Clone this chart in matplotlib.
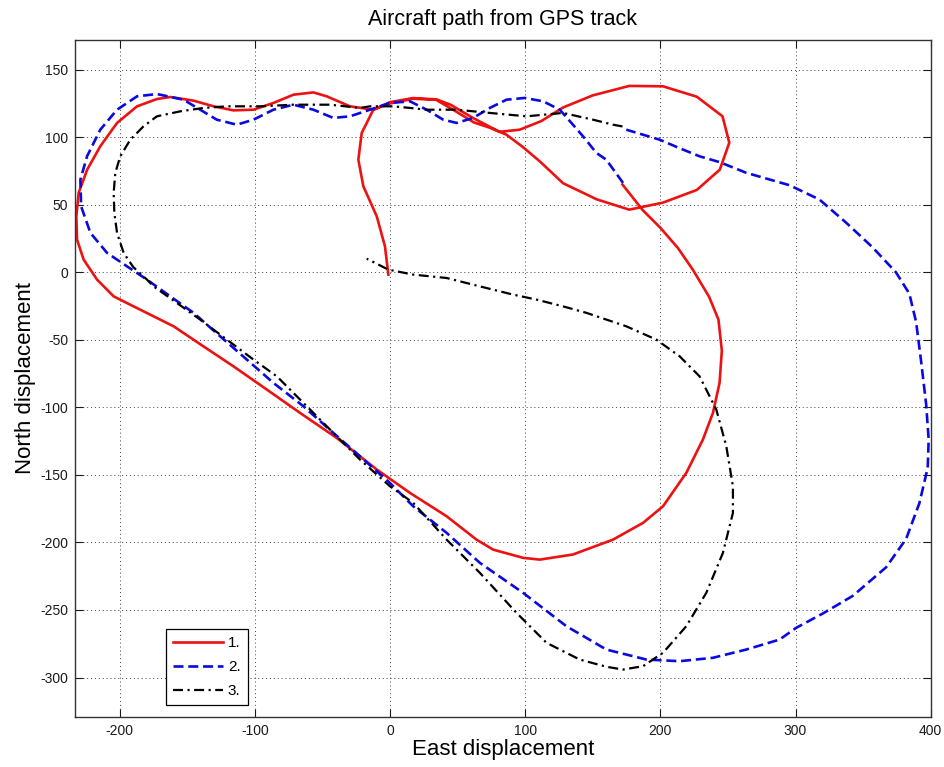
import matplotlib
matplotlib.use("Agg")
import matplotlib.pyplot as plt

# ---------------- data ----------------
# Series 1 (red, solid)
red_x = [-1.2, -3.7, -9.8, -19.7, -23.4, -20.9, -12.3, 0.0, 17.0, 34.0, 49.0, 62.0, 74.0, 86.0, 98.0,
         111.0, 128.0, 153.0, 177.0, 202.0, 227.0, 244.0, 251.0, 246.0, 227.0, 202.0, 177.0, 150.0,
         128.0, 112.0, 96.0, 81.0, 61.0, 45.0, 34.5, 17.0, 0.0, -12.3, -29.6, -46.8, -56.7, -71.4, -86.2,
         -101.0, -115.8, -130.5, -145.3, -162.5, -172.4, -187.1, -201.9, -214.3, -224.0, -230.3, -232.0,
         -231.5, -226.6, -216.7, -204.4, -189.7, -172.4, -160.0, -138.0, -115.8, -91.1, -66.5, -39.4,
         -9.8, 14.8, 41.9, 64.0, 76.3, 98.5, 110.8, 135.4, 165.0, 187.2, 202.0, 219.2, 231.5, 238.9,
         243.8, 245.5, 243.0, 236.0, 224.0, 213.0, 200.0, 187.0, 172.0]
red_y = [-1.7, 19.2, 41.5, 63.7, 83.4, 103.2, 120.4, 125.0, 128.5, 127.8, 119.0, 111.0, 107.0, 102.0, 93.0,
         82.0, 66.0, 54.0, 46.4, 51.6, 61.0, 76.0, 96.0, 115.5, 130.0, 137.7, 138.0, 131.0,
         122.0, 112.0, 105.6, 104.0, 114.5, 124.0, 128.0, 129.0, 126.0, 120.4, 122.9, 130.3, 133.2, 131.5,
         125.4, 120.4, 119.9, 122.9, 127.1, 129.8, 128.3, 122.9, 110.6, 93.3, 76.0, 58.8, 41.5,
         24.2, 9.4, -5.4, -17.8, -25.2, -33.8, -40.0, -54.8, -69.6, -86.8, -104.1, -122.6,
         -146.0, -163.3, -180.6, -197.9, -205.3, -211.4, -212.7, -208.9, -197.9, -185.5, -173.2, -148.5,
         -123.8, -104.1, -81.9, -58.0, -35.0, -18.0, 2.0, 18.0, 33.0, 46.0, 65.0]

# Series 2 (blue, dashed)
blue_x = [172.4, 160.0, 152.7, 142.8, 133.0, 125.6, 113.3, 99.7, 86.2, 73.9, 61.5, 49.3, 39.4, 27.1,
          14.8, 0.0, -14.8, -29.6, -41.9, -56.7, -71.4, -86.2, -101.0, -113.3, -128.1, -140.4, -152.7,
          -172.4, -187.1, -201.9, -214.3, -224.1, -229.0, -228.5, -221.6, -209.3, -194.5, -179.8,
          -162.5, -145.3, -125.6, -105.9, -86.2, -64.0, -41.9, -22.2, 0.0, 17.2, 41.9, 66.5, 98.5,
          130.5, 160.1, 189.7, 214.3, 238.9, 263.5, 288.2, 300.5, 320.2, 342.4, 367.0, 381.8, 391.6,
          397.8, 398.5, 396.6, 392.9, 389.2, 384.2, 374.3, 357.1, 337.4, 317.7, 295.5, 263.5, 243.8,
          229.0, 214.0, 199.5, 174.8]
blue_y = [66.2, 83.4, 88.4, 100.7, 112.0, 120.4, 126.6, 129.1, 127.8, 121.7, 114.3, 110.6, 113.0, 120.4,
          126.6, 125.4, 120.4, 115.5, 114.3, 120.4, 124.1, 120.4, 113.0, 109.3, 113.0, 120.4, 127.8,
          132.0, 130.3, 120.4, 105.6, 85.9, 68.6, 48.9, 29.2, 14.4, 4.4, -5.4,
          -17.8, -30.0, -47.4, -64.6, -81.9, -99.2, -118.9, -136.2, -156.0, -173.2, -192.9, -215.1, -237.3,
          -262.0, -279.3, -286.7, -287.9, -285.4, -279.3, -271.9, -263.2, -252.6, -239.5, -218.4, -197.4,
          -171.0, -144.7, -123.7, -97.4, -65.8, -36.8, -15.8, 0.0, 18.4, 36.8, 53.9, 64.5, 73.7, 81.6,
          85.9, 92.0, 98.2, 105.6]

# Series 3 (black, dash-dot)
black_x = [172.0, 165.0, 150.2, 128.0, 101.0, 73.9, 49.3, 27.1, 14.8, 2.4, -14.8, -22.2, -44.3, -71.4,
           -96.0, -120.7, -138.0, -155.1, -172.4, -182.3, -192.1, -199.5, -203.2, -204.4, -203.9,
           -201.9, -197.0, -190.0, -179.8, -174.9, -157.6, -140.4, -120.7, -101.0, -83.7, -61.5, -41.9,
           -22.2, 0.0, 17.2, 41.9, 66.5, 93.6, 115.8, 140.4, 160.0, 172.4, 187.2, 202.0, 219.2, 234.0,
           246.3, 253.7, 253.7, 248.8, 241.4, 229.0, 214.3, 197.0, 174.9, 145.3, 128.0, 108.4, 91.1,
           66.5, 41.9, 17.2, -1.2, -17.2]
black_y = [108.0, 109.3, 113.0, 118.0, 115.5, 118.0, 120.4, 120.4, 121.7, 122.9, 122.9, 121.7, 124.1, 124.1,
           122.9, 122.9, 121.7, 119.2, 115.5, 108.1, 98.2, 85.9, 73.6, 58.8, 44.0,
           29.2, 14.4, 4.0, -5.4, -10.4, -22.7, -35.0, -49.8, -64.6, -77.0, -99.2, -118.9,
           -138.6, -158.4, -170.7, -197.9, -222.5, -252.1, -274.3, -286.7, -292.0, -294.1, -291.6, -281.7,
           -262.0, -237.3, -207.7, -178.1, -158.4, -128.8, -101.6, -77.0, -62.2, -49.8, -40.0, -30.0,
           -25.2, -20.2, -16.5, -10.4, -4.2, -1.7, 2.0, 10.1]

series_labels = ["1.", "2.", "3."]
x_ticks = [-200, -100, 0, 100, 200, 300, 400]
y_ticks = [-300, -250, -200, -150, -100, -50, 0, 50, 100, 150]
title_text = "Aircraft path from GPS track"
x_label = "East displacement"
y_label = "North displacement"

# ---------------- styling ----------------
plt.rcParams['font.family'] = ['Liberation Sans', 'DejaVu Sans']
plt.rcParams['axes.unicode_minus'] = False

fig = plt.figure(figsize=(9.44, 7.67), dpi=100)
W, H = 944, 767
ax_l, ax_r, ax_t, ax_b = 75, 930.7, 40, 716.7
ax = fig.add_axes([ax_l / W, 1 - ax_b / H, (ax_r - ax_l) / W, (ax_b - ax_t) / H])

ax.plot(red_x, red_y, color='#ee1111', lw=1.9, label=series_labels[0], solid_joinstyle='round')
ax.plot(blue_x, blue_y, color='#0a0ae0', lw=1.9, linestyle=(0, (3.8, 1.8)), label=series_labels[1])
ax.plot(black_x, black_y, color='black', lw=1.6, linestyle=(0, (4.5, 2.0, 1.0, 2.0)), label=series_labels[2])

ax.set_xlim(-233, 400)
ax.set_ylim(-329, 172)
ax.set_xticks(x_ticks)
ax.set_yticks(y_ticks)

ax.grid(True, color='0.25', linestyle=(0, (1, 3)), linewidth=0.7)
ax.tick_params(direction='in', length=6, width=0.8, top=True, right=True,
               labelsize=10, pad=5, colors='0.1')
for s in ax.spines.values():
    s.set_linewidth(1.0)
    s.set_color('0.2')

ax.set_title(title_text, fontsize=15.5, pad=11)
ax.set_xlabel(x_label, fontsize=16, labelpad=1)
ax.set_ylabel(y_label, fontsize=16, labelpad=3)

leg = ax.legend(loc='lower left', bbox_to_anchor=(0.1063, 0.0173, 0.0958, 0.1079),
                borderaxespad=0, fontsize=11, handlelength=3.3, labelspacing=0.65,
                handletextpad=0.3, borderpad=0.45, fancybox=False, framealpha=1,
                edgecolor='black', mode='expand')
leg.get_frame().set_linewidth(0.9)

fig.savefig("out.png", dpi=100)
